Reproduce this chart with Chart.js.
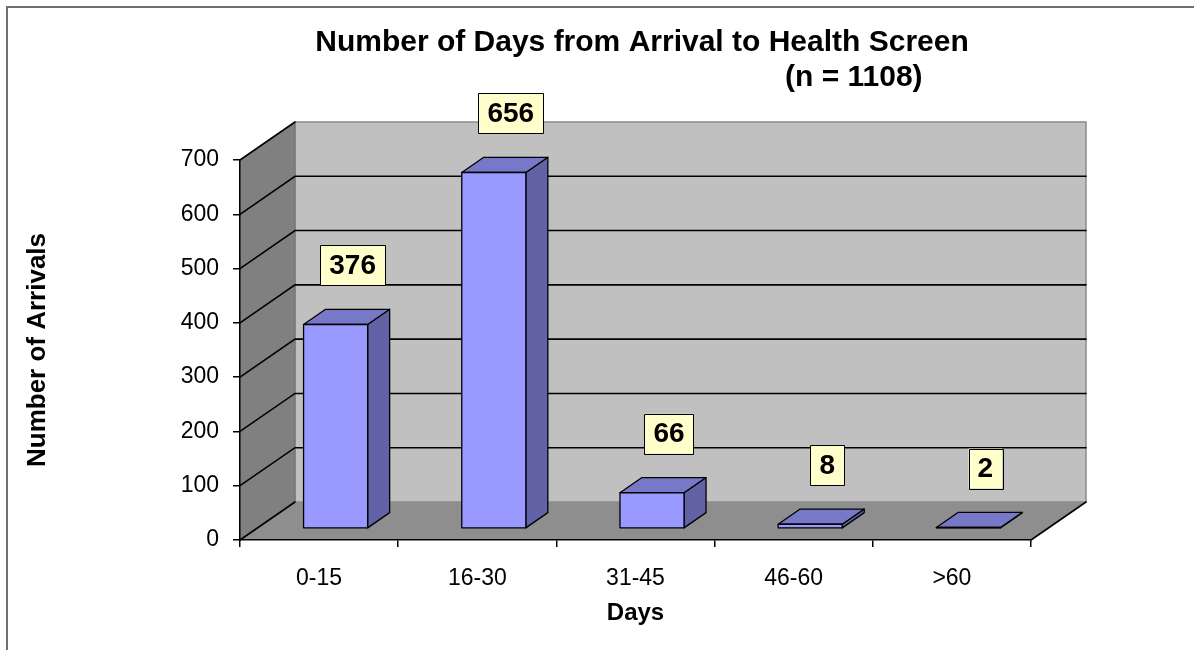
<!DOCTYPE html>
<html>
<head>
<meta charset="utf-8">
<script src="https://cdn.jsdelivr.net/npm/chart.js@4.4.1/dist/chart.umd.min.js"></script>
<style>
  html, body { margin: 0; padding: 0; background: #fff; }
  canvas { display: block; }
</style>
</head>
<body>
<canvas id="chart" width="1194" height="650"></canvas>
<script>
const categories = ["0-15", "16-30", "31-45", "46-60", ">60"];
const arrivals = [376, 656, 66, 8, 2];
const yTicks = [0, 100, 200, 300, 400, 500, 600, 700];
const titleLines = ["Number of Days from Arrival to Health Screen", "(n = 1108)"];

const FONT = '"Liberation Sans", Arial, sans-serif';
// depth of the 3d box, and where the bars sit inside it
const depthX = 55, depthY = -38;
const barFront = 0.3, barBack = 0.7;

function poly(ctx, pts, fill, stroke, lw) {
    ctx.beginPath();
    ctx.moveTo(pts[0][0], pts[0][1]);
    for (let i = 1; i < pts.length; i++) ctx.lineTo(pts[i][0], pts[i][1]);
    ctx.closePath();
    if (fill) { ctx.fillStyle = fill; ctx.fill(); }
    if (stroke) { ctx.strokeStyle = stroke; ctx.lineWidth = lw || 1; ctx.stroke(); }
}

const walls3d = {
    id: "walls3d",
    beforeDraw(chart) {
        const ctx = chart.ctx;
        const { left, right, top, bottom } = chart.chartArea;
        const y = chart.scales.y;
        ctx.save();
        // outer frame
        ctx.strokeStyle = "#707070";
        ctx.lineWidth = 2;
        ctx.beginPath();
        ctx.moveTo(7, 650);
        ctx.lineTo(7, 7);
        ctx.lineTo(1194, 7);
        ctx.stroke();

        // back wall
        poly(ctx, [[left + depthX, top + depthY], [right + depthX, top + depthY],
                   [right + depthX, bottom + depthY], [left + depthX, bottom + depthY]],
             "#C0C0C0", "#8a8a8a", 1.5);
        // left wall
        poly(ctx, [[left, bottom], [left, top], [left + depthX, top + depthY], [left + depthX, bottom + depthY]],
             "#808080", "#707070", 1);
        // floor
        poly(ctx, [[left, bottom], [right, bottom], [right + depthX, bottom + depthY], [left + depthX, bottom + depthY]],
             "#8E8E8E", null);

        // gridlines on walls
        ctx.lineCap = "round";
        yTicks.forEach(v => {
            const py = y.getPixelForValue(v);
            ctx.strokeStyle = "#000";
            ctx.lineWidth = 1.6;
            ctx.beginPath();
            ctx.moveTo(left, py);
            ctx.lineTo(left + depthX, py + depthY);
            if (v > 0 && v < yTicks[yTicks.length - 1]) ctx.lineTo(right + depthX, py + depthY);
            ctx.stroke();
        });
        // floor right edge
        ctx.beginPath();
        ctx.moveTo(right, bottom);
        ctx.lineTo(right + depthX, bottom + depthY);
        ctx.stroke();
        ctx.restore();
    },
    afterDatasetsDraw(chart) {
        const ctx = chart.ctx;
        const meta = chart.getDatasetMeta(0);
        const fx = depthX * barFront, fy = depthY * barFront;
        const bx = depthX * (barBack - barFront), by = depthY * (barBack - barFront);
        ctx.save();
        ctx.lineJoin = "round";
        meta.data.forEach((bar, i) => {
            const x0 = bar.x - bar.width / 2 + fx;
            const x1 = bar.x + bar.width / 2 + fx;
            const yt = bar.y + fy;
            const yb = bar.base + fy;
            // side
            poly(ctx, [[x1, yb], [x1, yt], [x1 + bx, yt + by], [x1 + bx, yb + by]], "#6262A6", "#000", 1.3);
            // top
            poly(ctx, [[x0, yt], [x1, yt], [x1 + bx, yt + by], [x0 + bx, yt + by]], "#7878C8", "#000", 1.3);
            // front
            poly(ctx, [[x0, yb], [x0, yt], [x1, yt], [x1, yb]], "#9999FF", "#000", 1.3);

            // value label
            const cx = (x0 + x1) / 2 + 17;
            const cy = yt - 59;
            ctx.font = "bold 28px " + FONT;
            const txt = String(arrivals[i]);
            const tw = ctx.measureText(txt).width;
            const w = tw + 18, h = 40;
            ctx.fillStyle = "#FFFFCC";
            ctx.fillRect(cx - w / 2, cy - h / 2, w, h);
            ctx.strokeStyle = "#000";
            ctx.lineWidth = 1;
            ctx.strokeRect(Math.round(cx - w / 2) + 0.5, Math.round(cy - h / 2) + 0.5, Math.round(w), h);
            ctx.fillStyle = "#000";
            ctx.textAlign = "center";
            ctx.textBaseline = "middle";
            ctx.fillText(txt, cx, cy + 1);
        });
        ctx.restore();
    },
    afterDraw(chart) {
        const ctx = chart.ctx;
        ctx.save();
        ctx.fillStyle = "#000";
        ctx.font = "bold 30px " + FONT;
        ctx.textBaseline = "alphabetic";
        ctx.textAlign = "center";
        ctx.fillText(titleLines[0], 642, 51);
        ctx.textAlign = "left";
        ctx.fillText(titleLines[1], 785, 86);
        ctx.restore();
    }
};

Chart.defaults.color = "#000";
Chart.defaults.font.family = FONT;

new Chart(document.getElementById("chart"), {
    type: "bar",
    data: {
        labels: categories,
        datasets: [{
            data: arrivals,
            backgroundColor: "rgba(0,0,0,0)",
            borderWidth: 0,
            barPercentage: 0.405,
            categoryPercentage: 1
        }]
    },
    options: {
        responsive: false,
        animation: false,
        layout: { padding: { top: 160, right: 163, left: 0, bottom: 0 } },
        plugins: { legend: { display: false }, tooltip: { enabled: false } },
        scales: {
            x: {
                afterFit: s => { s.height = 110; },
                grid: { drawOnChartArea: false, offset: true, tickLength: 7, color: "#000", lineWidth: 1.5 },
                border: { color: "#000", width: 1.5 },
                ticks: { font: { size: 23 }, padding: 18 },
                title: { display: true, text: "Days", font: { size: 24, weight: "bold" }, padding: { bottom: 22 } }
            },
            y: {
                min: 0,
                max: 700,
                afterFit: s => { s.width = 240; },
                afterBuildTicks: s => { s.ticks = yTicks.map(v => ({ value: v })); },
                grid: { drawOnChartArea: false, tickLength: 7, color: "#000", lineWidth: 1.5 },
                border: { color: "#000", width: 1.5 },
                ticks: { font: { size: 23 }, padding: 14 },
                title: { display: true, text: "Number of Arrivals", font: { size: 26, weight: "bold" }, padding: { top: 22 } }
            }
        }
    },
    plugins: [walls3d]
});
</script>
</body>
</html>
